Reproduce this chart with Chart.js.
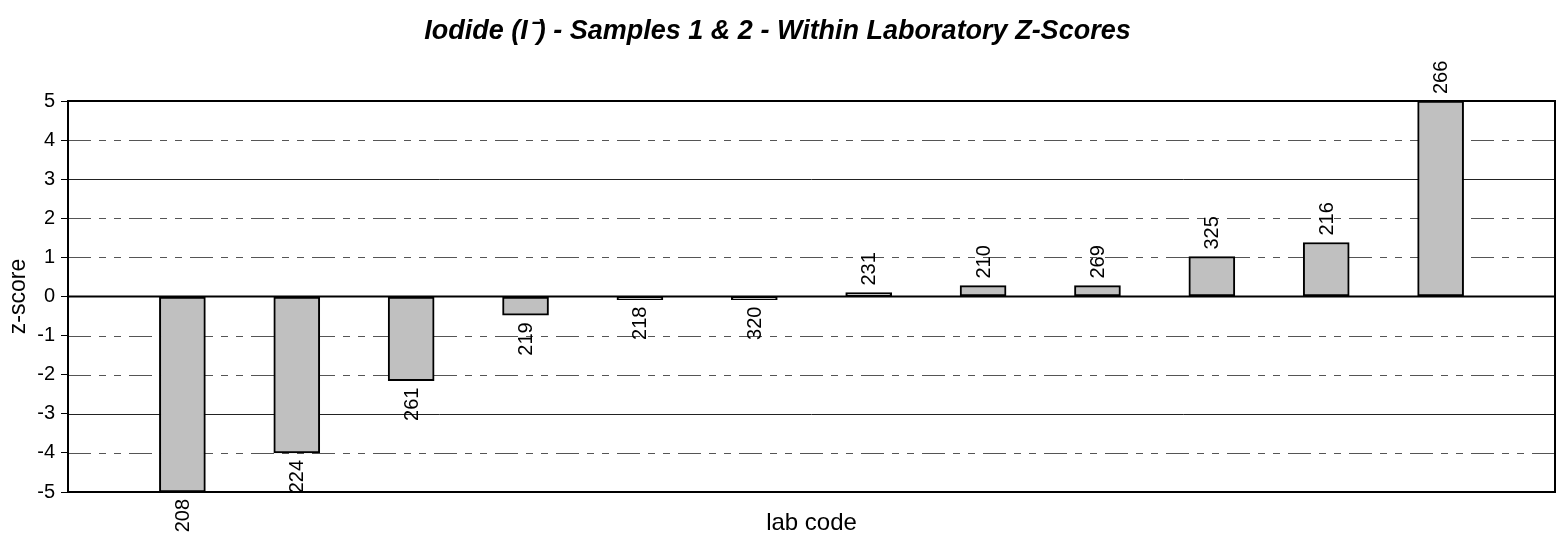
<!DOCTYPE html>
<html>
<head>
<meta charset="utf-8">
<script src="https://cdn.jsdelivr.net/npm/chart.js@4/dist/chart.umd.min.js"></script>
<style>
  html, body { margin: 0; padding: 0; background: #fff; }
  #wrap { width: 1561px; height: 541px; }
</style>
</head>
<body>
<div id="wrap"><canvas id="grafico"></canvas></div>
<script>
const labCodes = ['208', '224', '261', '219', '218', '320', '231', '210', '269', '325', '216', '266'];
const labPositions = [1, 2, 3, 4, 5, 6, 7, 8, 9, 10, 11, 12];
const zScores = [-5, -4.0, -2.15, -0.48, -0.08, -0.08, 0.1, 0.28, 0.28, 1.02, 1.38, 5];
const solidLines = [-3, 3];
const dashedLines = [-4, -2, -1, 1, 2, 4];

const FONT = "'Liberation Sans', Arial, sans-serif";

const gridLines = {
    id: 'gridLines',
    beforeDatasetsDraw(chart) {
        const {ctx, chartArea: a, scales: {y}} = chart;
        ctx.save();
        ctx.lineWidth = 1;
        ctx.strokeStyle = '#555';
        ctx.setLineDash([23, 8, 7, 8, 7, 8]);
        dashedLines.forEach(v => {
            const py = Math.round(y.getPixelForValue(v)) + 0.5;
            ctx.beginPath();
            ctx.moveTo(a.left, py);
            ctx.lineTo(a.right, py);
            ctx.stroke();
        });
        ctx.setLineDash([]);
        ctx.strokeStyle = '#222';
        solidLines.forEach(v => {
            const py = Math.round(y.getPixelForValue(v)) + 0.5;
            ctx.beginPath();
            ctx.moveTo(a.left, py);
            ctx.lineTo(a.right, py);
            ctx.stroke();
        });
        ctx.restore();
    },
    afterDatasetsDraw(chart) {
        const {ctx, chartArea: a, scales: {y}} = chart;
        ctx.save();
        ctx.strokeStyle = '#000';
        ctx.lineWidth = 2;
        const y0 = y.getPixelForValue(0);
        ctx.beginPath();
        ctx.moveTo(a.left, y0);
        ctx.lineTo(a.right, y0);
        ctx.stroke();
        ctx.strokeRect(a.left, a.top, a.right - a.left, a.bottom - a.top);

        // rotated lab code labels
        const meta = chart.getDatasetMeta(0);
        ctx.fillStyle = '#000';
        ctx.font = '20px ' + FONT;
        ctx.textBaseline = 'middle';
        meta.data.forEach((bar, i) => {
            const v = zScores[i];
            ctx.save();
            if (v >= 0) {
                ctx.translate(bar.x, bar.y - 7);
                ctx.rotate(-Math.PI / 2);
                ctx.textAlign = 'left';
            } else {
                ctx.translate(bar.x, bar.y + 7);
                ctx.rotate(-Math.PI / 2);
                ctx.textAlign = 'right';
            }
            ctx.fillText(labCodes[i], 0, 1);
            ctx.restore();
        });
        ctx.restore();
    }
};

new Chart(document.getElementById('grafico'), {
    type: 'bar',
    data: {
        datasets: [{
            data: labPositions.map((p, i) => ({x: p, y: zScores[i]})),
            backgroundColor: '#c0c0c0',
            borderColor: '#000',
            borderWidth: 2,
            borderSkipped: false,
            barThickness: 46
        }]
    },
    options: {
        responsive: true,
        maintainAspectRatio: false,
        animation: false,
        devicePixelRatio: 1,
        layout: {padding: {left: 0, right: 6, top: 0, bottom: 0}},
        plugins: {
            legend: {display: false},
            tooltip: {enabled: false},
            title: {
                display: true,
                text: 'Iodide (I\u207B) - Samples 1 & 2 - Within Laboratory Z-Scores',
                color: '#000',
                font: {family: FONT, size: 27, weight: 'bold', style: 'italic'},
                padding: {top: 15, bottom: 53.6}
            }
        },
        scales: {
            x: {
                type: 'linear',
                offset: false,
                min: 0,
                max: 13,
                ticks: {display: false},
                grid: {display: false},
                border: {display: false},
                title: {
                    display: true,
                    text: 'lab code',
                    color: '#000',
                    font: {family: FONT, size: 24},
                    padding: {top: 0, bottom: 3}
                },
                afterFit(scale) { scale.height = 49; }
            },
            y: {
                min: -5,
                max: 5,
                ticks: {stepSize: 1, color: '#000', font: {family: FONT, size: 20}, padding: 6},
                grid: {drawOnChartArea: false, drawTicks: true, tickLength: 7, color: '#000', lineWidth: 1},
                border: {display: true, color: '#000', width: 2},
                title: {
                    display: true,
                    text: 'z-score',
                    color: '#000',
                    font: {family: FONT, size: 23},
                    padding: {top: 4.5, bottom: 0}
                },
                afterFit(scale) { scale.width = 68; }
            }
        }
    },
    plugins: [gridLines]
});
</script>
</body>
</html>
